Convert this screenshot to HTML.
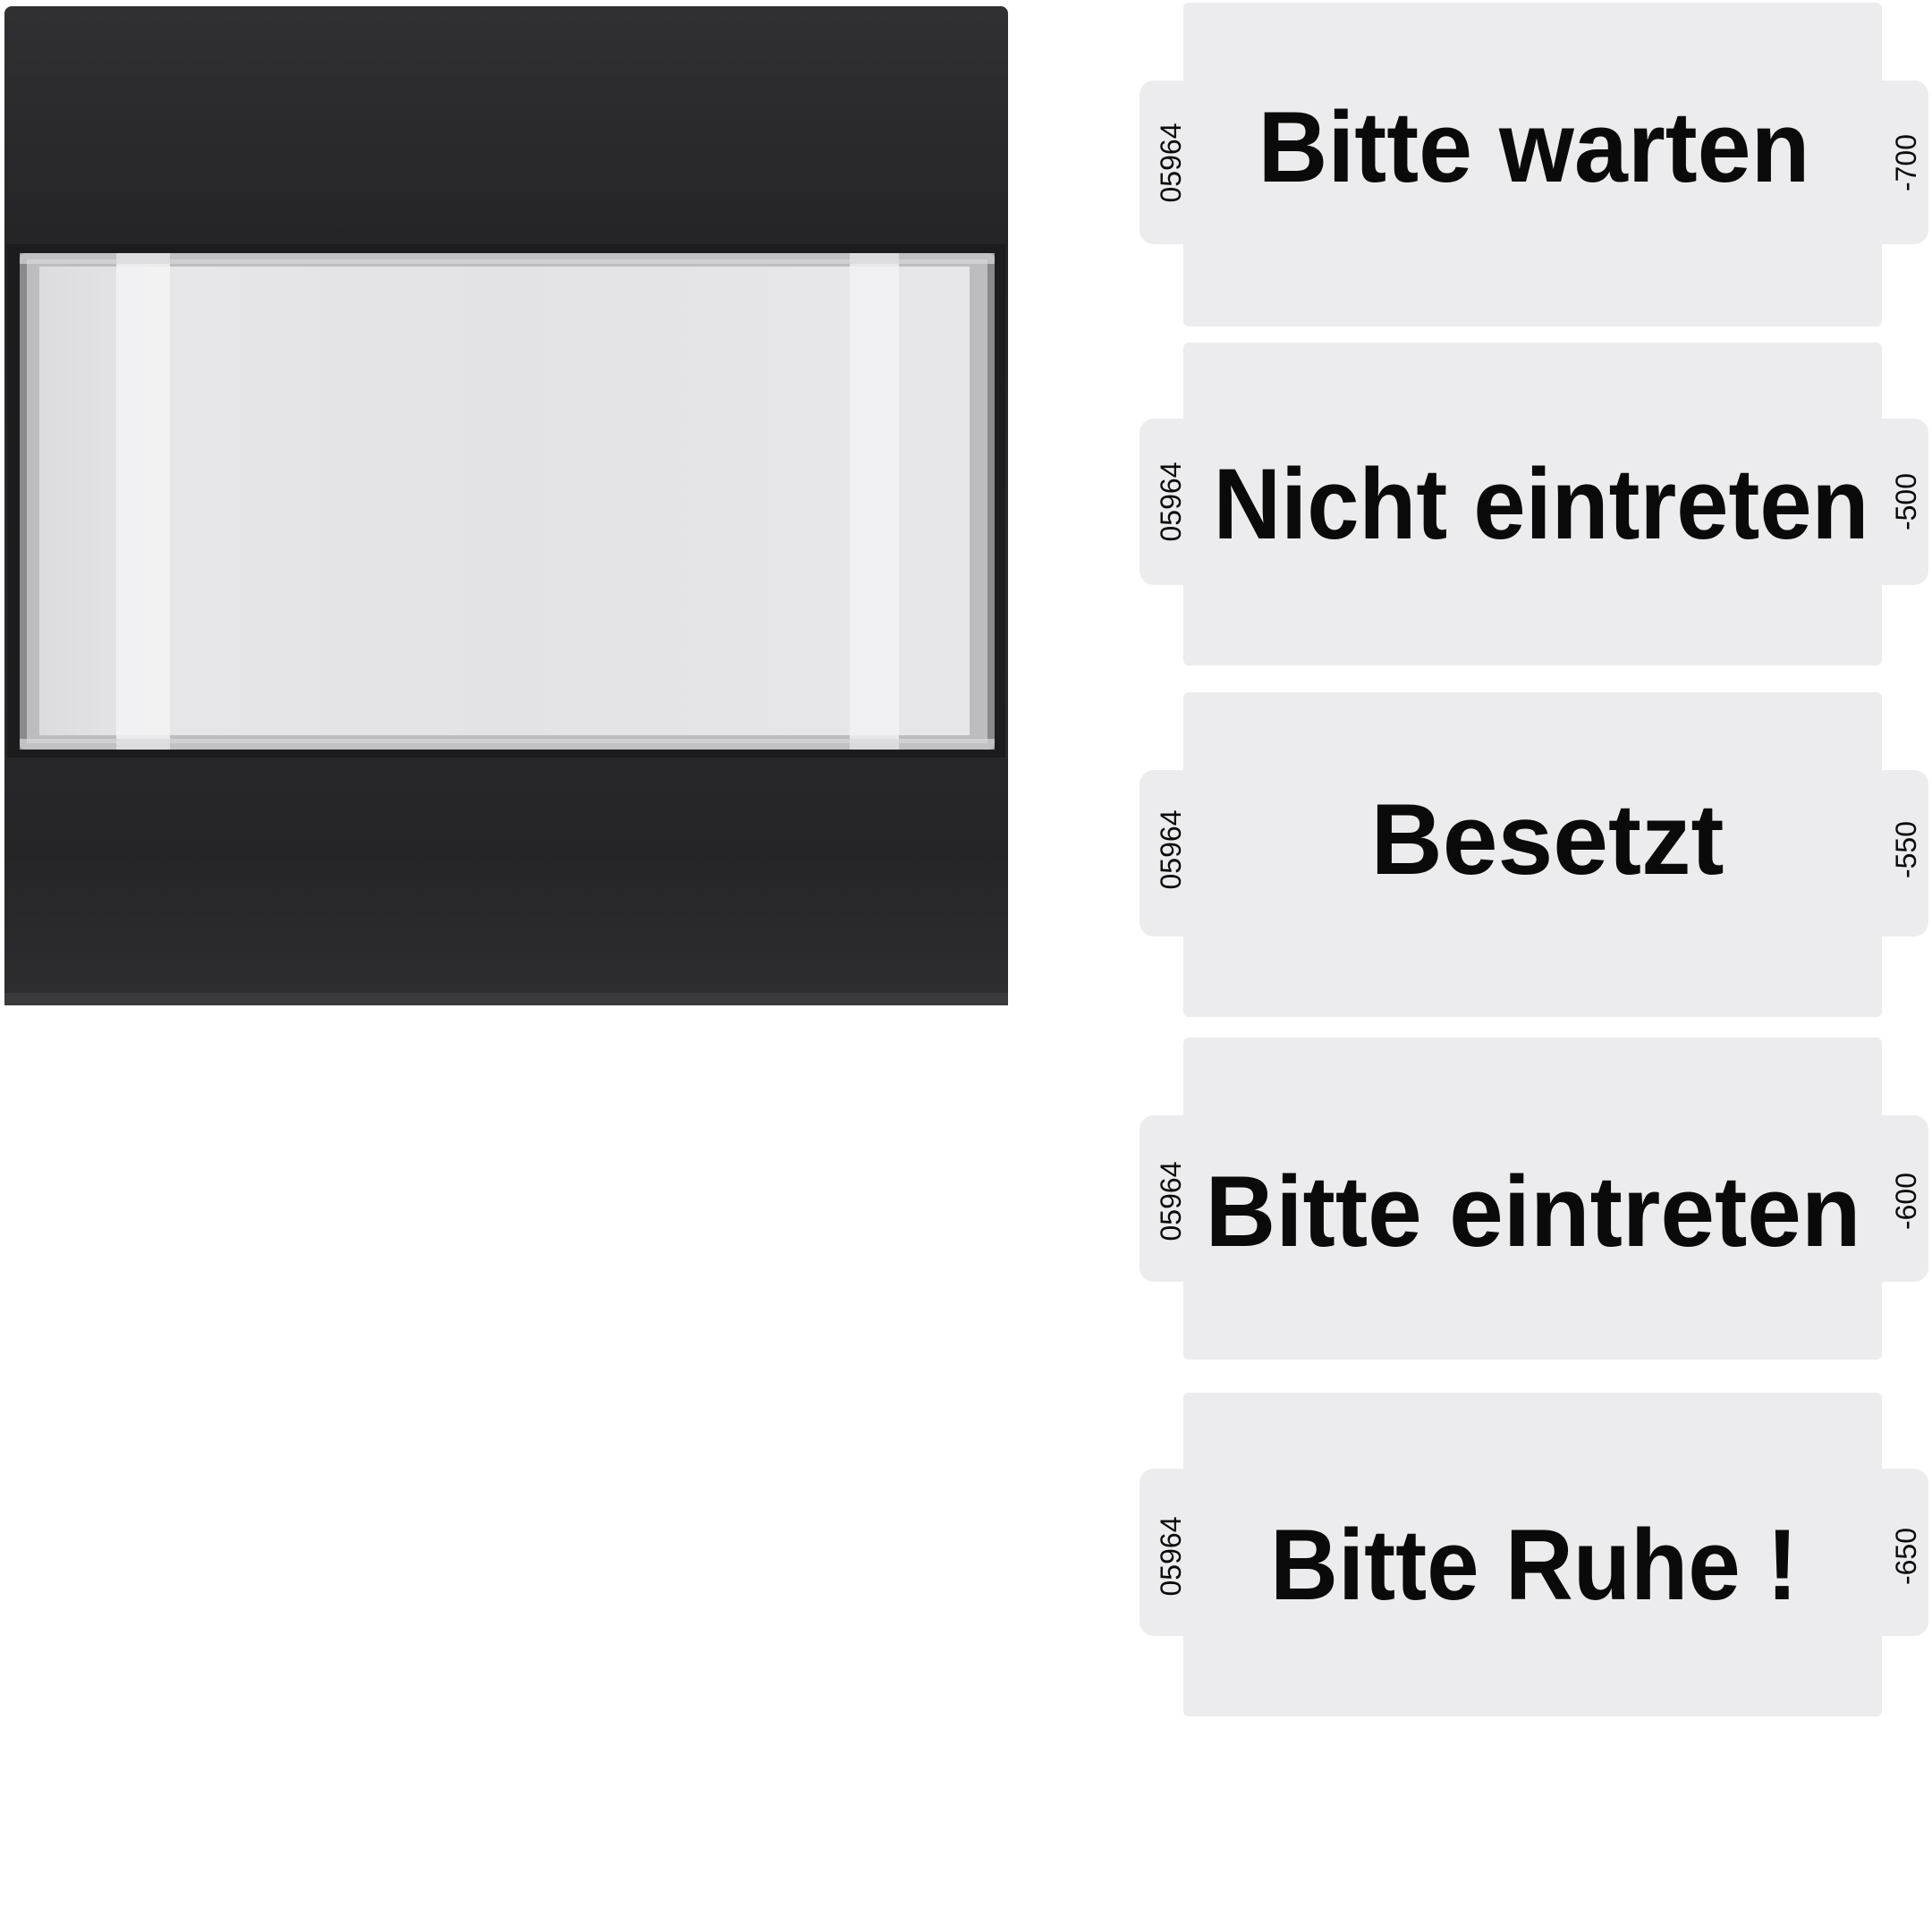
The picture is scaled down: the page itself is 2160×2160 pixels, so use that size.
<!DOCTYPE html>
<html><head><meta charset="utf-8"><style>
html,body{margin:0;padding:0;background:#fff;}
svg{display:block}
</style></head><body>
<svg width="2160" height="2160" viewBox="0 0 2160 2160" xmlns="http://www.w3.org/2000/svg">
<defs>
<linearGradient id="plate" x1="0" y1="0" x2="0" y2="1">
<stop offset="0" stop-color="#303033"/><stop offset="0.25" stop-color="#242427"/><stop offset="0.6" stop-color="#2b2b2e"/><stop offset="0.85" stop-color="#252528"/><stop offset="1" stop-color="#2e2e31"/>
</linearGradient>
<linearGradient id="panel" x1="0" y1="0" x2="1" y2="0">
<stop offset="0" stop-color="#dcdcdf"/><stop offset="0.12" stop-color="#e6e6e8"/><stop offset="0.5" stop-color="#e3e3e6"/><stop offset="1" stop-color="#e7e7e9"/>
</linearGradient>
</defs>
<rect x="5" y="7" width="1122" height="1117" rx="8" fill="url(#plate)"/>
<rect x="5" y="1110" width="1122" height="14" fill="#3a3a3d"/>
<rect x="8" y="273" width="1116" height="574" fill="#1c1c1e"/>
<rect x="22" y="283" width="1090" height="555" rx="6" fill="#8a8a8e"/>
<rect x="30" y="290" width="1074" height="541" fill="#bdbdc1"/>
<rect x="44" y="298" width="1040" height="524" fill="url(#panel)"/>
<rect x="130" y="283" width="60" height="555" fill="#f3f3f4" opacity="0.85"/>
<rect x="950" y="283" width="55" height="555" fill="#f3f3f4" opacity="0.8"/>
<rect x="22" y="283" width="1090" height="12" fill="#d8d8dc" opacity="0.7"/>
<rect x="22" y="826" width="1090" height="12" fill="#d8d8dc" opacity="0.7"/>

<g font-family="Liberation Sans, Arial, sans-serif" fill="#0a0a0a">
<g>
<rect x="1323" y="3" width="781" height="362" rx="6" fill="#ececee"/>
<rect x="1274" y="90" width="882" height="183" rx="16" fill="#ececee"/>
<text x="1715" y="203" font-size="112" font-weight="bold" text-anchor="middle" textLength="617" lengthAdjust="spacingAndGlyphs">Bitte warten</text>
<text transform="translate(1320,182) rotate(-90)" font-size="32" text-anchor="middle">05964</text>
<text transform="translate(2142,182) rotate(-90)" font-size="32" text-anchor="middle">-700</text>
</g>
<g>
<rect x="1323" y="383" width="781" height="361" rx="6" fill="#ececee"/>
<rect x="1274" y="468" width="882" height="186" rx="16" fill="#ececee"/>
<text x="1723" y="602" font-size="112" font-weight="bold" text-anchor="middle" textLength="733" lengthAdjust="spacingAndGlyphs">Nicht eintreten</text>
<text transform="translate(1320,561) rotate(-90)" font-size="32" text-anchor="middle">05964</text>
<text transform="translate(2142,561) rotate(-90)" font-size="32" text-anchor="middle">-500</text>
</g>
<g>
<rect x="1323" y="774" width="781" height="363" rx="6" fill="#ececee"/>
<rect x="1274" y="861" width="882" height="186" rx="16" fill="#ececee"/>
<text x="1730" y="977" font-size="112" font-weight="bold" text-anchor="middle" textLength="395" lengthAdjust="spacingAndGlyphs">Besetzt</text>
<text transform="translate(1320,950) rotate(-90)" font-size="32" text-anchor="middle">05964</text>
<text transform="translate(2142,950) rotate(-90)" font-size="32" text-anchor="middle">-550</text>
</g>
<g>
<rect x="1323" y="1160" width="781" height="360" rx="6" fill="#ececee"/>
<rect x="1274" y="1247" width="882" height="186" rx="16" fill="#ececee"/>
<text x="1714" y="1393" font-size="112" font-weight="bold" text-anchor="middle" textLength="733" lengthAdjust="spacingAndGlyphs">Bitte eintreten</text>
<text transform="translate(1320,1343) rotate(-90)" font-size="32" text-anchor="middle">05964</text>
<text transform="translate(2142,1343) rotate(-90)" font-size="32" text-anchor="middle">-600</text>
</g>
<g>
<rect x="1323" y="1557" width="781" height="362" rx="6" fill="#ececee"/>
<rect x="1274" y="1642" width="882" height="187" rx="16" fill="#ececee"/>
<text x="1715" y="1788" font-size="112" font-weight="bold" text-anchor="middle" textLength="590" lengthAdjust="spacingAndGlyphs">Bitte Ruhe !</text>
<text transform="translate(1320,1740) rotate(-90)" font-size="32" text-anchor="middle">05964</text>
<text transform="translate(2142,1740) rotate(-90)" font-size="32" text-anchor="middle">-650</text>
</g>
</g>
</svg>
</body></html>
